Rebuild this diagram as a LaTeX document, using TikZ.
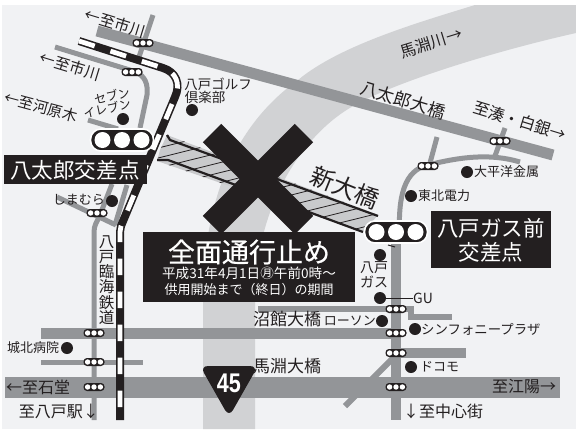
\documentclass[tikz,border=0pt]{standalone}
\usepackage{fontspec}
\setmainfont{Noto Sans CJK JP}
\newfontfamily\numfont{Liberation Sans}
\newfontfamily\heavyfont[FakeBold=0.6]{Noto Sans CJK JP}
\definecolor{bgc}{HTML}{F1F2F4}
\definecolor{riverc}{HTML}{D1D2D4}
\definecolor{roadc}{HTML}{939598}
\definecolor{inkc}{HTML}{231F20}
\definecolor{hatchc}{HTML}{C9CACC}
\newcommand\fs[1]{\fontsize{#1}{#1}\selectfont}
\newcommand\smallsig[2]{%
  \fill[inkc,rounded corners=3.5pt] (#1-10.5,#2-4) rectangle (#1+10.5,#2+4);
  \foreach \d in {-6.4,0,6.4} \fill[white] (#1+\d,#2) circle (2.7);}
\newcommand\bigsig[2]{%
  \fill[inkc,draw=white,line width=1.6pt,rounded corners=10.5pt] (#1-31.5,#2-11) rectangle (#1+31.5,#2+11);
  \foreach \d in {-19.5,0,19.5} \fill[white] (#1+\d,#2) circle (8);}
\tikzset{
  roadw/.style={draw=roadc,line width=5pt},
  roadm/.style={draw=roadc,line width=6pt},
  roadb/.style={draw=roadc,line width=11pt},
  spot/.style={fill=inkc,circle,inner sep=0pt,minimum size=12pt},
  lab/.style={text=inkc,inner sep=0pt,align=center},
  lableft/.style={lab,anchor=west},
  labright/.style={lab,anchor=east},
  boxtext/.style={text=white,inner sep=0pt,align=center},
}
\begin{document}
\begin{tikzpicture}[x=1pt,y=-1pt]
\useasboundingbox (0,0) rectangle (576,432);
\fill[white] (0,0) rectangle (576,432);
\fill[bgc] (2,5) rectangle (576,429);
% river
\fill[riverc] (475,5) -- (576,5) -- (576,33) .. controls (500,50) and (400,80) .. (355,105)
  .. controls (300,135) and (255,210) .. (255,300) -- (255,429) -- (203,429) -- (203,300)
  .. controls (203,200) and (235,125) .. (298,80) .. controls (340,45) and (420,22) .. (475,5) -- cycle;
% roads
\draw[roadb] (97,31) -- (553,155);
\draw[roadw] (153,15) -- (138,60);
\draw[roadw] (55,47) -- (133,71) .. controls (146,75) and (148,85) .. (147,95) -- (140,128);
\draw[roadw] (88,120) -- (118,129);
\draw[roadw] (94,420) -- (94,232) .. controls (94,225) and (97,222) .. (100,215) -- (112,184);
\draw[roadw] (57,197) -- (116,225);
\draw[roadw] (127,185) -- (115,225);
\fill[roadc] (41,328) rectangle (396,339);
\draw[roadw] (41,362) -- (143,362);
\fill[roadc] (5,377) rectangle (560,398);
\draw[roadm] (258,309) -- (411,309) -- (411,317) -- (452,317);
\fill[roadc] (391,235) rectangle (401,420);
\draw[roadw] (400,240) .. controls (397,195) and (405,170) .. (428,165) .. controls (460,157) and (490,153) .. (520,162);
\draw[roadw] (437,137) -- (430,163);
\draw[roadw] (505,128) -- (495,156);
\fill[roadc] (396,348) rectangle (466,358);
\draw[roadm] (396,355) -- (345,406);
% bridge
\begin{scope}
\clip (167,135) -- (378,215) -- (363,232) -- (157,161) -- (160,150) -- cycle;
\fill[hatchc] (150,130) rectangle (385,235);
\foreach \i in {-2,...,36} \draw[inkc,line width=0.8pt] (150,{130+\i*10}) -- (400,{130+\i*10-62});
\end{scope}
\draw[inkc,line width=2.2pt] (167,135) -- (170,140) -- (378,216);
\draw[inkc,line width=2.2pt] (157,160) -- (168,160) -- (363,232);
% big X
\draw[inkc,line width=26pt] (212,133) -- (304,225);
\draw[inkc,line width=26pt] (304,133) -- (212,225);
% railway
\draw[inkc,line width=8pt] (79,41) -- (163,68) .. controls (176,72) and (181,84) .. (175,97) -- (121,226) -- (120,232) -- (120,420);
\draw[white,line width=4.8pt,dash pattern=on 16.5pt off 16.5pt] (79,41) -- (163,68) .. controls (176,72) and (181,84) .. (175,97) -- (121,226) -- (120,232) -- (120,420);
% boxes
\fill[inkc] (143,232) rectangle (355,302);
\fill[inkc] (4,155) rectangle (147,184);
\fill[inkc] (431,211) rectangle (551,268);
\node[boxtext,font=\heavyfont\fs{27}] (zenmen) at (249,252) {全面通行止め};
\node[boxtext,font=\fs{13.6}] (date) at (249,273.5) {平成31年4月1日㊊午前0時〜};
\node[boxtext,font=\fs{13}] (period) at (249,290) {供用開始まで（終日）の期間};
\node[boxtext,font=\fs{21.6}] (hachitaro) at (75,170) {八太郎交差点};
\node[boxtext,font=\fs{21.5}] (gasmae) at (491,228) {八戸ガス前};
\node[boxtext,font=\fs{21.5}] (gasmae2) at (491,252) {交差点};
% signals
\bigsig{122}{140}
\bigsig{396}{232}
\draw[inkc,line width=1pt] (388,245) -- (395,247);
\smallsig{143}{43}
\smallsig{132}{72}
\smallsig{97}{213}
\smallsig{94}{333}
\smallsig{94}{362}
\smallsig{94}{387}
\smallsig{428}{166}
\smallsig{500}{141}
\smallsig{396}{309}
\smallsig{396}{333}
\smallsig{396}{353}
\smallsig{396}{387}
% spots
\node[spot] (d1) at (123,119) {};
\node[spot] (d2) at (192,110) {};
\node[spot] (d3) at (112,201) {};
\node[spot] (d4) at (467,172) {};
\node[spot] (d5) at (411,196) {};
\node[spot] (d6) at (380,255) {};
\node[spot] (d7) at (380,298) {};
\node[spot] (d8) at (382,321) {};
\node[spot] (d9) at (415,329) {};
\node[spot] (d10) at (411,367) {};
\node[spot] (d11) at (67,348) {};
\node[lableft,font=\fs{14}] (gu) at (413,298) {GU};
\draw[inkc,line width=1pt] (d7) -- (gu);
% labels
\node[lab,font=\fs{15.5},rotate=-17] (ichi1) at (115,23) {←至市川};
\node[lab,font=\fs{15.5},rotate=-17] (ichi2) at (70,66) {←至市川};
\node[lab,font=\fs{15},rotate=-15] (kawara) at (41,107) {←至河原木};
\node[lab,font=\fs{12},rotate=12] (seven1) at (112,95.5) {セブン};
\node[lab,font=\fs{12},rotate=12] (seven2) at (107,108.5) {イレブン};
\node[lab,font=\fs{13.5}] (golf1) at (218,84) {八戸ゴルフ};
\node[lab,font=\fs{13.5}] (golf2) at (205,97) {倶楽部};
\node[lab,font=\fs{16},rotate=17] (umabe) at (431,43) {馬淵川→};
\node[lab,font=\fs{17.5},rotate=-17] (htb) at (403,100) {八太郎大橋};
\node[lab,font=\fs{16},rotate=-17] (minato) at (520,121) {至湊・白銀→};
\node[lab,font=\fs{24},rotate=-22] (shin) at (345,188) {新大橋};
\node[lableft,font=\fs{13}] at (474,172) (taihei) {大平洋金属};
\node[lableft,font=\fs{13}] at (418,196) (tohoku) {東北電力};
\node[lab,font=\fs{14}] (gas1) at (374,268) {八戸};
\node[lab,font=\fs{14}] (gas2) at (374,282) {ガス};
\node[labright,font=\fs{13}] (lawson) at (376,321) {ローソン};
\node[lab,font=\fs{17}] (numa) at (287,319) {沼館大橋};
\node[lab,font=\fs{17}] (umab) at (287,366) {馬淵大橋};
\node[lableft,font=\fs{13.4}] (symph) at (421,329) {シンフォニープラザ};
\node[lableft,font=\fs{13}] (docomo) at (420,367) {ドコモ};
\node[lab,font=\fs{16}] (koyo) at (524,387) {至江陽→};
\node[lab,font=\fs{16}] (chushin) at (443,411) {↓至中心街};
\node[lab,font=\fs{16}] (ishido) at (38,387) {←至石堂};
\node[lab,font=\fs{16}] (hachieki) at (59,411) {至八戸駅↓};
\node[lableft,font=\fs{13}] (johoku) at (7,348) {城北病院};
\node[labright,font=\fs{13}] (shima) at (105,200) {しまむら};
\node[lab,font=\fs{15.5},align=center] (rinkai) at (106.5,280) {八\\[-0.2pt]戸\\[-0.2pt]臨\\[-0.2pt]海\\[-0.2pt]鉄\\[-0.2pt]道};
% route 45
\fill[inkc,rounded corners=8pt] (200,366) -- (258,366) -- (229,417) -- cycle;
\node[boxtext,font=\numfont\bfseries\fs{27}] (r45) at (229,383) {\scalebox{0.8}[1]{45}};
\end{tikzpicture}
\end{document}
